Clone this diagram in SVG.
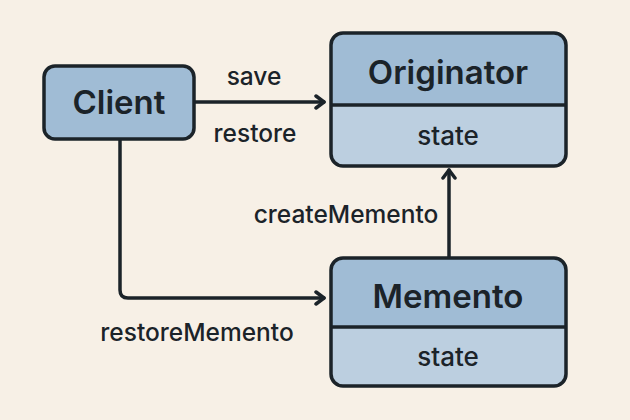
<svg xmlns="http://www.w3.org/2000/svg" width="630" height="420" viewBox="0 0 630 420">
<defs>
<style>
.box{stroke:#1b2329;stroke-width:3.5}
.head{fill:#a0bcd5}
.body{fill:#bccfe0}
.title{font-family:Inter,"Open Sans","Liberation Sans",sans-serif;font-weight:600;font-size:33px;fill:#1b2329;text-anchor:middle}
.attr{font-family:Inter,"Open Sans","Liberation Sans",sans-serif;font-weight:500;font-size:26px;fill:#1b2329;text-anchor:middle}
.lbl{font-family:Inter,"Open Sans","Liberation Sans",sans-serif;font-weight:500;font-size:24.5px;fill:#1b2329;text-anchor:middle}
.conn{fill:none;stroke:#1b2329;stroke-width:3.5;stroke-linejoin:round;stroke-linecap:round}
</style>
<marker id="arr" viewBox="0 0 12 16" refX="10" refY="8" markerWidth="12" markerHeight="16" markerUnits="userSpaceOnUse" orient="auto">
<path d="M2 2 L10 8 L2 14" fill="none" stroke="#1b2329" stroke-width="3.5" stroke-linecap="round" stroke-linejoin="round"/>
</marker>
</defs>
<rect width="630" height="420" fill="#f7f0e6"/>
<g id="connectors">
<path class="conn" d="M194 102 H324" marker-end="url(#arr)"/>
<path class="conn" d="M120 140 V290 Q120 298 128 298 H324" marker-end="url(#arr)"/>
<path class="conn" d="M449 258 V170" marker-end="url(#arr)"/>
<text class="lbl" x="254" y="85">save</text>
<text class="lbl" x="255" y="142">restore</text>
<text class="lbl" x="346" y="223">createMemento</text>
<text class="lbl" x="197" y="341">restoreMemento</text>
</g>
<g id="client">
<rect class="box head" x="44" y="66" width="150" height="73" rx="11"/>
<text class="title" x="119" y="114">Client</text>
</g>
<g id="originator">
<path class="body" d="M331 105 H566 V154 Q566 166 554 166 H343 Q331 166 331 154 Z"/>
<path class="head" d="M331 105 V45 Q331 33 343 33 H554 Q566 33 566 45 V105 Z"/>
<rect class="box" x="331" y="33" width="235" height="133" rx="12" fill="none"/>
<line class="box" x1="331" y1="105" x2="566" y2="105"/>
<text class="title" x="448" y="84">Originator</text>
<text class="attr" x="448" y="145">state</text>
</g>
<g id="memento">
<path class="body" d="M331 327 H566 V374 Q566 386 554 386 H343 Q331 386 331 374 Z"/>
<path class="head" d="M331 327 V270 Q331 258 343 258 H554 Q566 258 566 270 V327 Z"/>
<rect class="box" x="331" y="258" width="235" height="128" rx="12" fill="none"/>
<line class="box" x1="331" y1="327" x2="566" y2="327"/>
<text class="title" x="448" y="308">Memento</text>
<text class="attr" x="448" y="366">state</text>
</g>
</svg>
